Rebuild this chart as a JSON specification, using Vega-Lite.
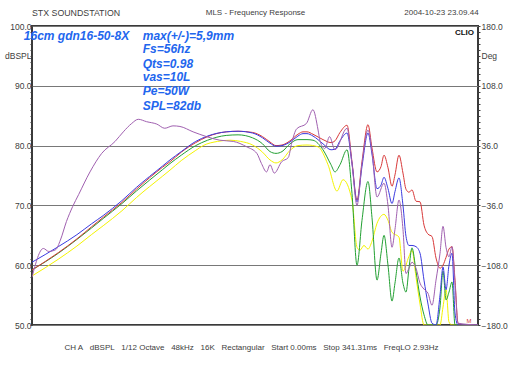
{
  "$schema": "https://vega.github.io/schema/vega-lite/v6.json",
  "width": 446,
  "height": 299,
  "autosize": "none",
  "padding": {"left": 32, "top": 26, "right": 34, "bottom": 59},
  "background": "white",
  "config": {"view": {"stroke": "#3a3a3a", "strokeWidth": 2}, "font": "Liberation Sans"},
  "datasets": {
    "curves": [
      {"series":"yellow","freq":20,"db":58.2},{"series":"yellow","freq":30.2,"db":61.0},{"series":"yellow","freq":40.4,"db":63.2},{"series":"yellow","freq":50.7,"db":65.1},{"series":"yellow","freq":61,"db":66.6},{"series":"yellow","freq":81.8,"db":69.1},{"series":"yellow","freq":102.6,"db":71.3},{"series":"yellow","freq":154.8,"db":74.9},{"series":"yellow","freq":173.7,"db":75.9},{"series":"yellow","freq":207.3,"db":77.5},{"series":"yellow","freq":260,"db":79.2},{"series":"yellow","freq":292,"db":80.0},{"series":"yellow","freq":366,"db":80.7},{"series":"yellow","freq":445,"db":80.9},{"series":"yellow","freq":525,"db":80.7},{"series":"yellow","freq":633,"db":80.1},{"series":"yellow","freq":740,"db":78.9},{"series":"yellow","freq":832,"db":77.6},{"series":"yellow","freq":914,"db":77.1},{"series":"yellow","freq":1004,"db":77.6},{"series":"yellow","freq":1138,"db":79.2},{"series":"yellow","freq":1289,"db":80.0},{"series":"yellow","freq":1485,"db":80.1},{"series":"yellow","freq":1764,"db":79.8},{"series":"yellow","freq":2064,"db":76.8},{"series":"yellow","freq":2376,"db":72.4},{"series":"yellow","freq":2611,"db":74.3},{"series":"yellow","freq":3005,"db":70.9},{"series":"yellow","freq":3250,"db":63.0},{"series":"yellow","freq":3405,"db":62.5},{"series":"yellow","freq":3624,"db":63.3},{"series":"yellow","freq":3861,"db":62.7},{"series":"yellow","freq":4110,"db":64.0},{"series":"yellow","freq":4447,"db":67.0},{"series":"yellow","freq":4962,"db":68.5},{"series":"yellow","freq":5281,"db":67.5},{"series":"yellow","freq":5624,"db":65.5},{"series":"yellow","freq":6274,"db":64.7},{"series":"yellow","freq":6679,"db":59.0},{"series":"yellow","freq":7340,"db":61.5},{"series":"yellow","freq":7692,"db":62.5},{"series":"yellow","freq":8191,"db":58.0},{"series":"yellow","freq":8722,"db":53.5},{"series":"yellow","freq":9284,"db":50},{"series":"yellow","freq":11931,"db":50},{"series":"yellow","freq":12502,"db":53},{"series":"yellow","freq":13104,"db":55.9},{"series":"yellow","freq":13733,"db":50.5},{"series":"yellow","freq":14396,"db":50},{"series":"yellow","freq":21630,"db":50},
      {"series":"green","freq":20,"db":59.2},{"series":"green","freq":30.2,"db":62.0},{"series":"green","freq":40.4,"db":64.3},{"series":"green","freq":50.7,"db":66.2},{"series":"green","freq":61,"db":67.8},{"series":"green","freq":81.8,"db":70.3},{"series":"green","freq":102.6,"db":72.4},{"series":"green","freq":154.8,"db":76.0},{"series":"green","freq":173.7,"db":77.0},{"series":"green","freq":207.3,"db":78.4},{"series":"green","freq":260,"db":80.0},{"series":"green","freq":313,"db":80.9},{"series":"green","freq":419,"db":81.7},{"series":"green","freq":504.5,"db":81.8},{"series":"green","freq":633,"db":81.3},{"series":"green","freq":740,"db":80.3},{"series":"green","freq":832,"db":79.0},{"series":"green","freq":914,"db":78.7},{"series":"green","freq":1004,"db":79.0},{"series":"green","freq":1138,"db":80.3},{"series":"green","freq":1289,"db":81.0},{"series":"green","freq":1395,"db":81.0},{"series":"green","freq":1485,"db":81.0},{"series":"green","freq":1631,"db":80.9},{"series":"green","freq":1908,"db":79.3},{"series":"green","freq":2163,"db":76.8},{"series":"green","freq":2302,"db":75.6},{"series":"green","freq":2490,"db":76.8},{"series":"green","freq":2780,"db":79.3},{"series":"green","freq":3005,"db":72.0},{"series":"green","freq":3250,"db":60.0},{"series":"green","freq":3515,"db":67.5},{"series":"green","freq":3861,"db":74.0},{"series":"green","freq":4110,"db":68.0},{"series":"green","freq":4447,"db":57.5},{"series":"green","freq":4735,"db":62.0},{"series":"green","freq":4962,"db":65.0},{"series":"green","freq":5281,"db":60.0},{"series":"green","freq":5624,"db":54.0},{"series":"green","freq":5892,"db":57.0},{"series":"green","freq":6274,"db":61.2},{"series":"green","freq":6679,"db":57.0},{"series":"green","freq":7003,"db":55.5},{"series":"green","freq":7340,"db":59.5},{"series":"green","freq":7692,"db":62.9},{"series":"green","freq":8191,"db":59.0},{"series":"green","freq":8722,"db":54.7},{"series":"green","freq":9284,"db":51.7},{"series":"green","freq":9885,"db":50},{"series":"green","freq":11205,"db":50},{"series":"green","freq":11931,"db":53},{"series":"green","freq":12502,"db":59.0},{"series":"green","freq":13104,"db":54.2},{"series":"green","freq":13733,"db":55.5},{"series":"green","freq":14396,"db":57.2},{"series":"green","freq":15089,"db":50},{"series":"green","freq":21630,"db":50},
      {"series":"red","freq":20,"db":59.2},{"series":"red","freq":30.2,"db":62.1},{"series":"red","freq":40.4,"db":64.4},{"series":"red","freq":50.7,"db":66.4},{"series":"red","freq":61,"db":68.0},{"series":"red","freq":81.8,"db":70.5},{"series":"red","freq":102.6,"db":72.7},{"series":"red","freq":154.8,"db":76.4},{"series":"red","freq":173.7,"db":77.3},{"series":"red","freq":207.3,"db":78.9},{"series":"red","freq":260,"db":80.5},{"series":"red","freq":313,"db":81.5},{"series":"red","freq":419,"db":82.3},{"series":"red","freq":504.5,"db":82.4},{"series":"red","freq":633,"db":82.2},{"series":"red","freq":740,"db":81.5},{"series":"red","freq":832,"db":80.6},{"series":"red","freq":914,"db":80.0},{"series":"red","freq":1004,"db":80.1},{"series":"red","freq":1138,"db":80.8},{"series":"red","freq":1289,"db":81.9},{"series":"red","freq":1395,"db":82.3},{"series":"red","freq":1485,"db":82.3},{"series":"red","freq":1631,"db":81.9},{"series":"red","freq":1908,"db":81.0},{"series":"red","freq":2163,"db":80.5},{"series":"red","freq":2302,"db":80.8},{"series":"red","freq":2490,"db":82.2},{"series":"red","freq":2780,"db":83.4},{"series":"red","freq":3005,"db":77.3},{"series":"red","freq":3250,"db":70.9},{"series":"red","freq":3515,"db":77.3},{"series":"red","freq":3861,"db":83.5},{"series":"red","freq":4110,"db":79.6},{"series":"red","freq":4447,"db":75.6},{"series":"red","freq":4735,"db":76.5},{"series":"red","freq":4962,"db":78.4},{"series":"red","freq":5281,"db":76.3},{"series":"red","freq":5624,"db":73.2},{"series":"red","freq":5892,"db":75.1},{"series":"red","freq":6274,"db":78.4},{"series":"red","freq":6679,"db":75.4},{"series":"red","freq":7003,"db":72.7},{"series":"red","freq":7340,"db":72.2},{"series":"red","freq":7692,"db":72.6},{"series":"red","freq":8191,"db":70.7},{"series":"red","freq":8722,"db":70.6},{"series":"red","freq":9284,"db":66.7},{"series":"red","freq":9885,"db":65.2},{"series":"red","freq":10525,"db":64.8},{"series":"red","freq":11205,"db":61.2},{"series":"red","freq":11931,"db":59.5},{"series":"red","freq":12502,"db":60.0},{"series":"red","freq":13104,"db":61.3},{"series":"red","freq":13733,"db":62.7},{"series":"red","freq":14396,"db":63.1},{"series":"red","freq":15089,"db":57.5},{"series":"red","freq":15815,"db":50.3},{"series":"red","freq":16840,"db":50},{"series":"red","freq":21630,"db":50},
      {"series":"blue","freq":20,"db":60.5},{"series":"blue","freq":30.2,"db":63.1},{"series":"blue","freq":40.4,"db":65.1},{"series":"blue","freq":50.7,"db":66.9},{"series":"blue","freq":61,"db":68.3},{"series":"blue","freq":81.8,"db":70.8},{"series":"blue","freq":102.6,"db":73.0},{"series":"blue","freq":154.8,"db":76.6},{"series":"blue","freq":173.7,"db":77.6},{"series":"blue","freq":207.3,"db":79.0},{"series":"blue","freq":260,"db":80.7},{"series":"blue","freq":313,"db":81.6},{"series":"blue","freq":419,"db":82.3},{"series":"blue","freq":504.5,"db":82.4},{"series":"blue","freq":633,"db":82.1},{"series":"blue","freq":740,"db":81.3},{"series":"blue","freq":832,"db":80.4},{"series":"blue","freq":914,"db":79.9},{"series":"blue","freq":1004,"db":80.0},{"series":"blue","freq":1138,"db":80.6},{"series":"blue","freq":1289,"db":81.6},{"series":"blue","freq":1395,"db":82.0},{"series":"blue","freq":1485,"db":82.0},{"series":"blue","freq":1631,"db":81.6},{"series":"blue","freq":1908,"db":80.3},{"series":"blue","freq":2163,"db":79.3},{"series":"blue","freq":2302,"db":79.4},{"series":"blue","freq":2490,"db":80.8},{"series":"blue","freq":2780,"db":82.1},{"series":"blue","freq":3005,"db":77.0},{"series":"blue","freq":3250,"db":70.6},{"series":"blue","freq":3515,"db":76.5},{"series":"blue","freq":3861,"db":82.1},{"series":"blue","freq":4110,"db":78.6},{"series":"blue","freq":4447,"db":72.8},{"series":"blue","freq":4735,"db":73.4},{"series":"blue","freq":4962,"db":74.7},{"series":"blue","freq":5281,"db":72.8},{"series":"blue","freq":5624,"db":70.3},{"series":"blue","freq":5892,"db":72.3},{"series":"blue","freq":6274,"db":74.6},{"series":"blue","freq":6679,"db":70.0},{"series":"blue","freq":7003,"db":64.8},{"series":"blue","freq":7340,"db":63.3},{"series":"blue","freq":7692,"db":63.3},{"series":"blue","freq":8191,"db":63.1},{"series":"blue","freq":8722,"db":62.0},{"series":"blue","freq":9284,"db":57.5},{"series":"blue","freq":9885,"db":53.5},{"series":"blue","freq":10525,"db":50.3},{"series":"blue","freq":11205,"db":50},{"series":"blue","freq":11931,"db":55},{"series":"blue","freq":12502,"db":59.7},{"series":"blue","freq":13104,"db":55.9},{"series":"blue","freq":13733,"db":60},{"series":"blue","freq":14396,"db":62.0},{"series":"blue","freq":15089,"db":52},{"series":"blue","freq":15815,"db":50},{"series":"blue","freq":21630,"db":50},
      {"series":"purple","freq":20,"db":58.0},{"series":"purple","freq":23.9,"db":62.8},{"series":"purple","freq":26,"db":62.3},{"series":"purple","freq":29,"db":62.6},{"series":"purple","freq":31.2,"db":64.2},{"series":"purple","freq":34.3,"db":67.3},{"series":"purple","freq":37.8,"db":69.8},{"series":"purple","freq":41.5,"db":71.8},{"series":"purple","freq":49.6,"db":75.6},{"series":"purple","freq":59.6,"db":78.7},{"series":"purple","freq":73.5,"db":80.7},{"series":"purple","freq":83.6,"db":82.3},{"series":"purple","freq":95.3,"db":83.7},{"series":"purple","freq":105.7,"db":84.4},{"series":"purple","freq":120.3,"db":84.0},{"series":"purple","freq":141.2,"db":83.6},{"series":"purple","freq":160,"db":82.9},{"series":"purple","freq":182,"db":83.3},{"series":"purple","freq":203,"db":83.2},{"series":"purple","freq":249.5,"db":82.3},{"series":"purple","freq":308,"db":81.5},{"series":"purple","freq":379,"db":80.9},{"series":"purple","freq":468,"db":80.7},{"series":"purple","freq":577,"db":79.8},{"series":"purple","freq":677,"db":78.7},{"series":"purple","freq":728,"db":77.0},{"series":"purple","freq":788,"db":75.6},{"series":"purple","freq":832,"db":76.8},{"series":"purple","freq":890,"db":75.4},{"series":"purple","freq":998,"db":77.3},{"series":"purple","freq":1108,"db":78.0},{"series":"purple","freq":1170,"db":80.5},{"series":"purple","freq":1263,"db":82.8},{"series":"purple","freq":1472,"db":83.7},{"series":"purple","freq":1629,"db":86.0},{"series":"purple","freq":1767,"db":82.6},{"series":"purple","freq":1821,"db":80.8},{"series":"purple","freq":1962,"db":79.5},{"series":"purple","freq":2114,"db":81.5},{"series":"purple","freq":2302,"db":79.3},{"series":"purple","freq":2780,"db":82.9},{"series":"purple","freq":3005,"db":77.0},{"series":"purple","freq":3250,"db":70.0},{"series":"purple","freq":3515,"db":77.0},{"series":"purple","freq":3861,"db":82.6},{"series":"purple","freq":4110,"db":79.0},{"series":"purple","freq":4447,"db":71.4},{"series":"purple","freq":4962,"db":73.7},{"series":"purple","freq":5281,"db":70.0},{"series":"purple","freq":5624,"db":63.0},{"series":"purple","freq":5892,"db":66.0},{"series":"purple","freq":6274,"db":70.9},{"series":"purple","freq":6679,"db":66.0},{"series":"purple","freq":7003,"db":58.6},{"series":"purple","freq":7340,"db":59.5},{"series":"purple","freq":7692,"db":60.5},{"series":"purple","freq":8191,"db":59.5},{"series":"purple","freq":8722,"db":57.0},{"series":"purple","freq":9284,"db":56.0},{"series":"purple","freq":9885,"db":55.3},{"series":"purple","freq":10525,"db":53.3},{"series":"purple","freq":11205,"db":57.5},{"series":"purple","freq":11931,"db":62.0},{"series":"purple","freq":12502,"db":66.5},{"series":"purple","freq":13104,"db":63.0},{"series":"purple","freq":13733,"db":61.4},{"series":"purple","freq":14396,"db":63.1},{"series":"purple","freq":15089,"db":57.0},{"series":"purple","freq":15815,"db":50.3},{"series":"purple","freq":21630,"db":50}
    ]
  },
  "layer": [
    {
      "data": {"name": "curves"},
      "mark": {"type": "line", "strokeWidth": 1, "clip": true, "interpolate": "monotone"},
      "encoding": {
        "x": {
          "field": "freq", "type": "quantitative",
          "scale": {"type": "log", "domain": [20, 21630], "nice": false},
          "axis": {
            "title": null,
            "values": [20,30,40,50,60,70,80,90,100,200,300,400,500,600,700,800,900,1000,2000,3000,4000,5000,6000,7000,8000,9000,10000,13250,20000],
            "labelExpr": "datum.value == 20 ? '20' : datum.value == 100 ? '100' : datum.value == 1000 ? '1k' : datum.value == 10000 ? '10k' : datum.value == 13250 ? 'Hz' : datum.value == 20000 ? '20k' : ''",
            "ticks": false, "domain": false, "labelPadding": 4,
            "labelFontSize": 8.5, "labelColor": "#404040", "labelFont": "Liberation Sans",
            "labelOverlap": false, "labelBound": false, "labelFlush": false,
            "grid": true, "gridColor": "#a8a8a8", "gridWidth": 1,
            "gridOpacity": {"condition": {"test": "datum.value == 13250", "value": 0}, "value": 1}
          }
        },
        "y": {
          "field": "db", "type": "quantitative",
          "scale": {"domain": [50, 100], "nice": false, "zero": false},
          "axis": {
            "orient": "left", "title": null,
            "values": [50,51,52,53,54,55,56,57,58,59,60,61,62,63,64,65,66,67,68,69,70,71,72,73,74,75,76,77,78,79,80,81,82,83,84,85,86,87,88,89,90,91,92,93,94,95,96,97,98,99,100],
            "labelExpr": "datum.value % 10 == 0 ? format(datum.value, '.1f') : (datum.value == 95 ? 'dBSPL' : '')",
            "domain": false, "tickSize": 2, "tickColor": "#404040", "labelPadding": -1,
            "labelFontSize": 8.5, "labelColor": "#404040", "labelFont": "Liberation Sans",
            "labelOverlap": false, "labelBound": false, "labelFlush": false,
            "grid": true, "gridColor": "#787878", "gridWidth": 1,
            "gridOpacity": {"condition": {"test": "datum.value % 10 == 0", "value": 1}, "value": 0}
          }
        },
        "color": {
          "field": "series", "type": "nominal",
          "scale": {"domain": ["yellow","green","red","blue","purple"], "range": ["#f4f400","#22a032","#d83838","#3a3ae0","#a060b0"]},
          "legend": null
        }
      }
    },
    {
      "data": {"values": [
        {"label": "MLS - Frequency Response", "freq": 663, "db": 102.1},
        {"label": "CH A\u00a0\u00a0\u00a0dBSPL\u00a0\u00a0\u00a01/12 Octave\u00a0\u00a0\u00a048kHz\u00a0\u00a0\u00a016K\u00a0\u00a0\u00a0Rectangular\u00a0\u00a0\u00a0Start 0.00ms\u00a0\u00a0\u00a0Stop 341.31ms\u00a0\u00a0\u00a0FreqLO 2.93Hz", "freq": 622, "db": 46.1}
      ]},
      "mark": {"type": "text", "align": "center", "baseline": "middle", "fontSize": 8, "color": "#404040", "font": "Liberation Sans"},
      "encoding": {
        "x": {"field": "freq", "type": "quantitative", "scale": {"type": "log", "domain": [20, 21630], "nice": false}, "axis": null},
        "y": {
          "field": "db", "type": "quantitative",
          "scale": {"domain": [50, 100], "nice": false, "zero": false},
          "axis": {
            "orient": "right", "title": null,
            "values": [50,51,52,53,54,55,56,57,58,59,60,61,62,63,64,65,66,67,68,69,70,71,72,73,74,75,76,77,78,79,80,81,82,83,84,85,86,87,88,89,90,91,92,93,94,95,96,97,98,99,100],
            "labelExpr": "datum.value % 10 == 0 ? format((datum.value - 50) * 7.2 - 180, '.1f') : (datum.value == 95 ? 'Deg' : '')",
            "domain": false, "tickSize": 2, "tickColor": "#404040", "labelPadding": 1,
            "labelFontSize": 8.5, "labelColor": "#404040", "labelFont": "Liberation Sans",
            "labelOverlap": false, "labelBound": false, "labelFlush": false, "grid": false
          }
        },
        "text": {"field": "label", "type": "nominal"}
      }
    },
    {
      "data": {"values": [{"label": "STX SOUNDSTATION", "freq": 20, "db": 102.1}]},
      "mark": {"type": "text", "align": "left", "baseline": "middle", "fontSize": 8.8, "color": "#404040", "font": "Liberation Sans"},
      "encoding": {
        "x": {"field": "freq", "type": "quantitative", "scale": {"type": "log", "domain": [20, 21630], "nice": false}, "axis": null},
        "y": {"field": "db", "type": "quantitative", "scale": {"domain": [50, 100], "nice": false, "zero": false}, "axis": null},
        "text": {"field": "label", "type": "nominal"}
      }
    },
    {
      "data": {"values": [{"label": "2004-10-23 23.09.44", "freq": 21840, "db": 102.1}]},
      "mark": {"type": "text", "align": "right", "baseline": "middle", "fontSize": 8, "color": "#404040", "font": "Liberation Sans"},
      "encoding": {
        "x": {"field": "freq", "type": "quantitative", "scale": {"type": "log", "domain": [20, 21630], "nice": false}, "axis": null},
        "y": {"field": "db", "type": "quantitative", "scale": {"domain": [50, 100], "nice": false, "zero": false}, "axis": null},
        "text": {"field": "label", "type": "nominal"}
      }
    },
    {
      "data": {"values": [{"label": "CLIO", "freq": 20320, "db": 98.8}]},
      "mark": {"type": "text", "align": "right", "baseline": "middle", "fontSize": 8, "fontWeight": "bold", "color": "#111111", "font": "Liberation Sans"},
      "encoding": {
        "x": {"field": "freq", "type": "quantitative", "scale": {"type": "log", "domain": [20, 21630], "nice": false}, "axis": null},
        "y": {"field": "db", "type": "quantitative", "scale": {"domain": [50, 100], "nice": false, "zero": false}, "axis": null},
        "text": {"field": "label", "type": "nominal"}
      }
    },
    {
      "data": {"values": [{"label": "M", "freq": 18800, "db": 50.6}]},
      "mark": {"type": "text", "align": "center", "baseline": "middle", "fontSize": 6, "color": "#d83838", "font": "Liberation Sans"},
      "encoding": {
        "x": {"field": "freq", "type": "quantitative", "scale": {"type": "log", "domain": [20, 21630], "nice": false}, "axis": null},
        "y": {"field": "db", "type": "quantitative", "scale": {"domain": [50, 100], "nice": false, "zero": false}, "axis": null},
        "text": {"field": "label", "type": "nominal"}
      }
    },
    {
      "data": {"values": [
        {"label": "16cm gdn16-50-8X", "freq": 17.6, "db": 98.4},
        {"label": "max(+/-)=5,9mm", "freq": 113.3, "db": 98.4},
        {"label": "Fs=56hz", "freq": 113.3, "db": 96.1},
        {"label": "Qts=0.98", "freq": 113.3, "db": 93.7},
        {"label": "vas=10L", "freq": 113.3, "db": 91.4},
        {"label": "Pe=50W", "freq": 113.3, "db": 89.05},
        {"label": "SPL=82db", "freq": 113.3, "db": 86.65}
      ]},
      "mark": {"type": "text", "align": "left", "baseline": "middle", "fontSize": 12, "fontWeight": "bold", "fontStyle": "italic", "color": "#2266ee", "font": "Liberation Sans"},
      "encoding": {
        "x": {"field": "freq", "type": "quantitative", "scale": {"type": "log", "domain": [20, 21630], "nice": false}, "axis": null},
        "y": {"field": "db", "type": "quantitative", "scale": {"domain": [50, 100], "nice": false, "zero": false}, "axis": null},
        "text": {"field": "label", "type": "nominal"}
      }
    }
  ],
  "resolve": {"axis": {"y": "independent"}}
}
